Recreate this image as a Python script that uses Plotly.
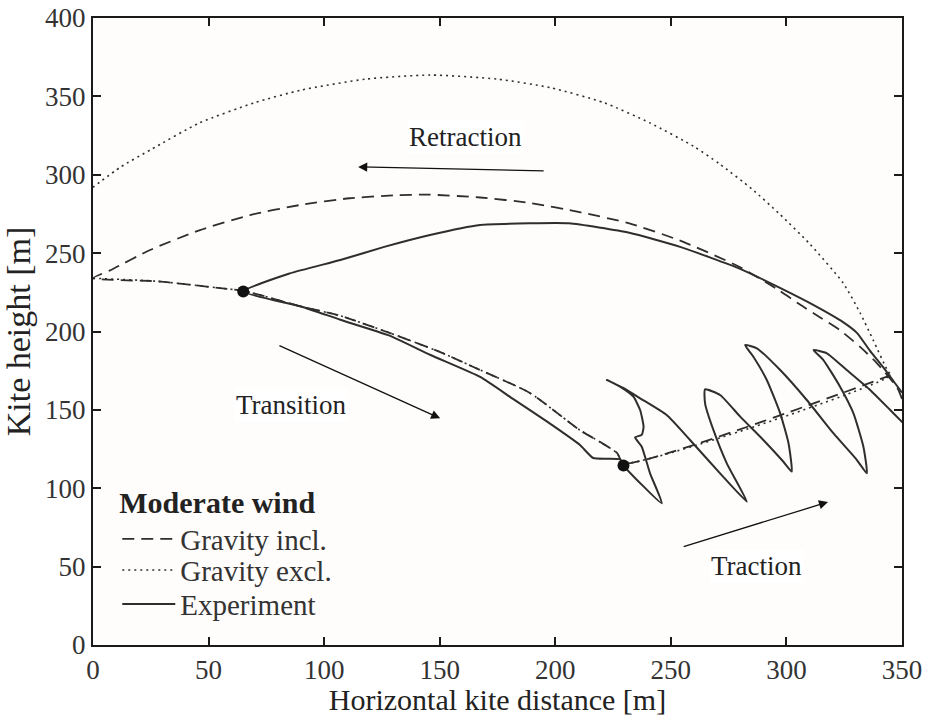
import plotly.graph_objects as go

# ---- model: gravity included (retraction -> transition -> traction) ----
gi_x = [350, 348, 339, 332, 323, 314.6, 306, 297, 280, 254, 232, 211, 189, 167.5, 145, 130, 111, 89.6, 68, 46.3, 24.7, 7.4, 0,
        28, 56, 65, 90, 107, 128.5, 150, 167.5, 189, 210.7, 219.4, 226.7, 229.5,
        345]
gi_y = [157, 164, 180, 190, 201, 209, 217, 226, 241, 258, 269, 276, 282, 285.5, 287.3, 286.8, 285, 280.7, 274.3, 264.7, 252, 239, 234,
        232, 227.5, 226, 216, 210, 199, 187, 175.4, 160.8, 137, 129.5, 122.5, 116,
        172]

# ---- model: gravity excluded (transition -> traction -> retraction) ----
ge_x = [0, 28, 56, 65, 90, 107, 128.5, 150, 167.5, 189, 210.7, 219.4, 226.7, 229.5,
        345, 343.6, 337.5, 331.9, 324.5, 310, 297, 285, 271, 260, 241, 221, 198, 175, 146, 118, 90, 70, 46, 25, 12, 0]
ge_y = [234, 232, 227.5, 226, 216, 210, 199, 187, 175.4, 160.8, 137, 129.5, 122.5, 116,
        172, 175.4, 194.6, 211.8, 231, 256, 275, 291, 307, 318, 333, 346, 355.5, 361, 363.6, 361, 354, 346, 333, 316, 305, 292]

# ---- experiment: retraction, transition, then traction figure-eights ----
ex_x = [350, 347, 342, 336, 330.6, 324.5, 311.6, 297, 280, 254, 232, 206, 189, 167.5, 145.8, 126, 107, 85, 65,
        90, 107, 128, 146, 167.5, 181.7, 196, 210.7, 216.4, 228, 229.5,
        246.1, 241, 237.4, 234.5, 237.4, 238.2, 236.7, 233.8, 228, 222.3,
        229.4, 236.7, 248.2, 258.3, 271.3, 282.9,
        274.2, 268.4, 264.8, 264.8,
        271.3, 280, 290, 298.7, 302.3,
        300.9, 297.3, 291.5, 285.7, 282.1,
        287.2, 297.3, 308.8, 320.3, 330.5, 334.8,
        333.3, 329, 323.2, 316, 311.7,
        317.5, 326.1, 336.2, 344.9, 352.8]
ex_y = [161, 167, 177, 188, 199, 206, 217, 228, 240, 254, 263, 269, 269, 268, 261.6, 254, 245.6, 237, 225.5,
        216, 207.5, 197.5, 185, 171, 157, 143, 127.6, 119.3, 118.5, 114.5,
        90.4, 109.5, 126.5, 132.5, 134, 139.3, 149.9, 158.4, 164.8, 169.1,
        164, 157.4, 146.7, 130.8, 109.5, 91.4,
        115.9, 137.2, 154.2, 163.1,
        159.5, 145.7, 130.8, 116.9, 110.6,
        128.7, 147.8, 169.1, 183.9, 191.4,
        189.3, 175.4, 156.3, 135.1, 118, 109.5,
        126.5, 147.8, 164.8, 181.8, 188.2,
        186.1, 175.4, 162.7, 149.9, 138.2]

# switching points between phases
sw_x = [65, 229.5]
sw_y = [225.5, 114.5]

# phase labels and their arrows (tail -> head)
phase_names = ["Retraction", "Transition", "Traction"]
label_x = [161, 86, 287]
label_y = [324, 153, 50.4]
arrow_tail_x = [195.6, 80, 254.9]
arrow_tail_y = [302.4, 191.4, 62.5]
arrow_head_x = [114.7, 150.2, 318]
arrow_head_y = [305, 144.6, 91.2]

x_ticks = [0, 50, 100, 150, 200, 250, 300, 350]
y_ticks = [0, 50, 100, 150, 200, 250, 300, 350, 400]

ink = "#2e2e2e"
serif = "Liberation Serif, Times New Roman, serif"

fig = go.Figure()
fig.add_trace(go.Scatter(x=gi_x, y=gi_y, mode="lines", name="Gravity incl.", legend="legend",
                         line=dict(color=ink, width=1.8, dash="12px,7px", shape="spline", smoothing=0.6)))
fig.add_trace(go.Scatter(x=ge_x, y=ge_y, mode="lines", name="Gravity excl.", legend="legend2",
                         line=dict(color=ink, width=1.6, dash="2px,4px", shape="spline", smoothing=0.6)))
fig.add_trace(go.Scatter(x=ex_x, y=ex_y, mode="lines", name="Experiment", legend="legend3",
                         line=dict(color=ink, width=2, shape="spline", smoothing=0.5)))
fig.add_trace(go.Scatter(x=sw_x, y=sw_y, mode="markers", showlegend=False,
                         marker=dict(color="#111111", size=12)))

for name, lx, ly in zip(phase_names, label_x, label_y):
    fig.add_annotation(x=lx, y=ly, text=name, showarrow=False, bgcolor="white",
                       font=dict(family=serif, size=27, color="#222222"))
for tx, ty, hx, hy in zip(arrow_tail_x, arrow_tail_y, arrow_head_x, arrow_head_y):
    fig.add_annotation(x=hx, y=hy, ax=tx, ay=ty, axref="x", ayref="y", text="",
                       showarrow=True, arrowhead=2, arrowsize=1.4, arrowwidth=1.3, arrowcolor="#111111")

axis_common = dict(showline=True, linewidth=2, linecolor="#1a1a1a", mirror="ticks",
                   ticks="inside", ticklen=8, tickwidth=1.5, tickcolor="#1a1a1a",
                   showgrid=False, zeroline=False, automargin=False,
                   tickfont=dict(family=serif, size=27, color="#333333"))

fig.update_xaxes(range=[0, 350], tickvals=x_ticks,
                 title=dict(text="Horizontal kite distance [m]", standoff=4,
                            font=dict(family=serif, size=30, color="#222222")),
                 **axis_common)
fig.update_yaxes(range=[0, 400], tickvals=y_ticks,
                 title=dict(text="Kite height [m]", standoff=4,
                            font=dict(family=serif, size=34, color="#222222")),
                 **axis_common)

item_font = dict(family=serif, size=29, color="#333333")
legend_common = dict(x=0.03, xanchor="left", yanchor="top", bgcolor="rgba(0,0,0,0)",
                     itemwidth=53, font=item_font)

fig.update_layout(
    width=925, height=716,
    margin=dict(l=93, r=23, t=18, b=71),
    paper_bgcolor="white", plot_bgcolor="#fefdfb",
    legend=dict(y=0.272, title=dict(text="<b>Moderate wind</b>",
                                    font=dict(family=serif, size=30, color="#222222")), **legend_common),
    legend2=dict(y=0.16, **legend_common),
    legend3=dict(y=0.106, **legend_common),
)

fig.write_html("out.html")
